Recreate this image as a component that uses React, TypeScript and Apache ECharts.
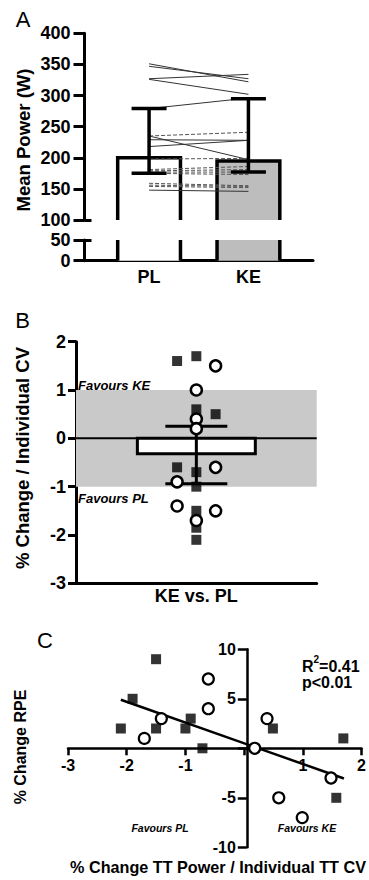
import React, { useEffect, useRef } from 'react';
import * as echarts from 'echarts';

const FONT = '"Liberation Sans", Arial, Helvetica, sans-serif';

// ---------- Panel A data ----------
const groupsA = ['PL', 'KE'];
const meanPowerA = [200, 195];
const sdLowA = [175, 177];
const sdHighA = [279, 295];
const barFillsA = ['#ffffff', '#bdbdbd'];
// individual lines: [PL, KE]
const individualSolid: [number, number][] = [
  [351, 322], [347, 327], [327, 334], [326, 302], [279, 296],
  [235, 197], [229, 228], [218, 228], [148, 146],
];
const individualDashed: [number, number][] = [
  [235, 241], [198, 199], [181, 186], [179, 181], [177, 177], [175, 173],
  [159, 155], [156, 154], [154, 152],
];

// ---------- Panel B data ----------
const meanB = -0.32;
const errLowB = -0.94;
const errHighB = 0.25;
const squaresB: [number, number][] = [
  [-0.16, 1.6], [0, 1.7], [0, 0.6], [0.16, 0.5], [-0.16, -0.6], [0, -0.7],
  [0, -1.0], [0, -1.5], [0, -1.85], [0, -2.1],
];
const circlesB: [number, number][] = [
  [0.16, 1.5], [0, 1.0], [0, 0.4], [0, 0.2], [0.16, -0.6], [-0.16, -0.9],
  [-0.16, -1.4], [0.16, -1.5], [0, -1.7],
];

// ---------- Panel C data ----------
const squaresC: [number, number][] = [
  [-2.1, 2], [-1.9, 5], [-1.5, 9], [-1.5, 2], [-1.0, 2], [-0.91, 3],
  [-0.71, 0], [0.49, 2], [1.69, 1], [1.57, -5],
];
const circlesC: [number, number][] = [
  [-1.7, 1], [-1.41, 3], [-0.61, 7], [-0.61, 4], [0.18, 0], [0.39, 3],
  [0.59, -5], [0.99, -7], [1.48, -3],
];
const fitC: [number, number][] = [[-2.1, 4.9], [1.7, -3.05]];
const xRangeC = [-3, 2];
const yRangeC = [-10, 10];

function barRenderer(floor: number, ceil: number, halfW: number, fills: string[], lw: number) {
  return (params: any, api: any) => {
    const x = api.value(0);
    const v = api.value(1);
    const top = Math.min(v, ceil);
    const bl = api.coord([x - halfW, floor]);
    const tr = api.coord([x + halfW, top]);
    const stroke = { stroke: '#000', lineWidth: lw, fill: null };
    const y0 = Math.min(bl[1], tr[1]);
    const h = Math.abs(bl[1] - tr[1]);
    const children: any[] = [
      { type: 'rect', shape: { x: bl[0], y: y0, width: tr[0] - bl[0], height: h }, style: { fill: fills[params.dataIndex % fills.length] } },
    ];
    if (v <= ceil) {
      children.push({
        type: 'polyline',
        shape: { points: [[bl[0], bl[1]], [bl[0], tr[1]], [tr[0], tr[1]], [tr[0], bl[1]]] },
        style: stroke,
      });
    } else {
      children.push({ type: 'line', shape: { x1: bl[0], y1: bl[1], x2: bl[0], y2: tr[1] }, style: stroke });
      children.push({ type: 'line', shape: { x1: tr[0], y1: bl[1], x2: tr[0], y2: tr[1] }, style: stroke });
    }
    return { type: 'group', children };
  };
}

function boxRenderer(halfW: number, lw: number) {
  return (params: any, api: any) => {
    const x = api.value(0);
    const v = api.value(1);
    const a = api.coord([x - halfW, 0]);
    const b = api.coord([x + halfW, v]);
    return {
      type: 'rect',
      shape: { x: a[0], y: Math.min(a[1], b[1]), width: b[0] - a[0], height: Math.abs(b[1] - a[1]) },
      style: { fill: '#fff', stroke: '#000', lineWidth: lw },
    };
  };
}

function errRenderer(capPx: number, lw: number) {
  return (params: any, api: any) => {
    const x = api.value(0);
    const a = api.coord([x, api.value(1)]);
    const b = api.coord([x, api.value(2)]);
    const s = { stroke: '#000', lineWidth: lw };
    return {
      type: 'group',
      children: [
        { type: 'line', shape: { x1: a[0], y1: a[1], x2: b[0], y2: b[1] }, style: s },
        { type: 'line', shape: { x1: a[0] - capPx, y1: a[1], x2: a[0] + capPx, y2: a[1] }, style: s },
        { type: 'line', shape: { x1: b[0] - capPx, y1: b[1], x2: b[0] + capPx, y2: b[1] }, style: s },
      ],
    };
  };
}

const boldLabel = (size: number) => ({ color: '#000', fontFamily: FONT, fontWeight: 'bold' as const, fontSize: size });

export default function App() {
  const ref = useRef<HTMLDivElement>(null);
  useEffect(() => {
    document.body.style.margin = '0';
    if (!ref.current) return;
    const chart = echarts.init(ref.current, null, { renderer: 'svg' });
    const axisLineA = { show: true, onZero: false, lineStyle: { color: '#000', width: 3 } };
    const barDataA = groupsA.map((_, i) => [i, meanPowerA[i]]);
    const errDataA = groupsA.map((_, i) => [i, sdLowA[i], sdHighA[i]]);

    // Panel C grid geometry; axes are shifted to the zero crossings
    const gC = { left: 68, right: 3, top: 649.3, height: 198 };
    const wC = 369 - gC.left - gC.right;
    const xZeroOffset = ((0 - xRangeC[0]) / (xRangeC[1] - xRangeC[0])) * wC;
    const yZeroOffset = ((0 - yRangeC[0]) / (yRangeC[1] - yRangeC[0])) * gC.height;

    const lineSeries = [
      ...individualSolid.map((d) => ({ d, dashed: false })),
      ...individualDashed.map((d) => ({ d, dashed: true })),
    ].map(({ d, dashed }) => ({
      type: 'line',
      xAxisIndex: 0,
      yAxisIndex: 0,
      data: [[0, d[0]], [1, d[1]]],
      symbol: 'none',
      z: 3,
      silent: true,
      lineStyle: { color: dashed ? '#555' : '#333', width: 1, type: dashed ? [4, 2] : 'solid' },
    }));

    const option: any = {
      animation: false,
      textStyle: { fontFamily: FONT },
      grid: [
        { left: 84.5, right: 56, top: 33.3, height: 186.7 },
        { left: 84.5, right: 56, top: 240, height: 20.7 },
        { left: 76, right: 52.3, top: 341.7, height: 241.6 },
        gC,
      ],
      xAxis: [
        { type: 'value', gridIndex: 0, min: -0.65, max: 1.65, show: false },
        {
          type: 'value', gridIndex: 1, min: -0.65, max: 1.65,
          axisLine: { show: true, onZero: false, lineStyle: { color: '#000', width: 3 } },
          axisTick: { show: false },
          splitLine: { show: false },
          axisLabel: {
            ...boldLabel(18), margin: 7, customValues: [0, 1],
            formatter: (v: number) => groupsA[Math.round(v)] ?? '',
          },
        },
        {
          type: 'value', gridIndex: 2, min: -1, max: 1,
          axisLine: { show: true, onZero: false, lineStyle: { color: '#000', width: 3 } },
          axisTick: { show: false }, axisLabel: { show: false }, splitLine: { show: false },
        },
        {
          type: 'value', gridIndex: 3, min: xRangeC[0], max: xRangeC[1], interval: 1,
          position: 'bottom', offset: -yZeroOffset,
          axisLine: { show: true, onZero: false, lineStyle: { color: '#000', width: 2.5 } },
          axisTick: { show: true, inside: false, length: 7, lineStyle: { color: '#000', width: 2.5 } },
          splitLine: { show: false },
          axisLabel: { ...boldLabel(16), margin: 9, formatter: (v: number) => (v === 0 ? '' : String(v)) },
        },
      ],
      yAxis: [
        {
          type: 'value', gridIndex: 0, position: 'left', min: 100, max: 400, interval: 50,
          axisLine: axisLineA,
          axisTick: { show: true, length: 11, lineStyle: { color: '#000', width: 3 } },
          splitLine: { show: false },
          axisLabel: { ...boldLabel(18), margin: 14 },
        },
        {
          type: 'value', gridIndex: 0, position: 'left', min: 100, max: 400,
          axisLine: { show: false, onZero: false },
          axisTick: { show: true, inside: true, length: 7, customValues: [100], lineStyle: { color: '#000', width: 3 } },
          axisLabel: { show: false }, splitLine: { show: false },
        },
        {
          type: 'value', gridIndex: 1, position: 'left', min: 0, max: 50, interval: 50,
          axisLine: axisLineA,
          axisTick: { show: true, length: 11, lineStyle: { color: '#000', width: 3 } },
          splitLine: { show: false },
          axisLabel: { ...boldLabel(18), margin: 14 },
        },
        {
          type: 'value', gridIndex: 1, position: 'left', min: 0, max: 50,
          axisLine: { show: false, onZero: false },
          axisTick: { show: true, inside: true, length: 7, customValues: [50], lineStyle: { color: '#000', width: 3 } },
          axisLabel: { show: false }, splitLine: { show: false },
        },
        {
          type: 'value', gridIndex: 2, position: 'left', min: -3, max: 2, interval: 1,
          axisLine: { show: true, onZero: false, lineStyle: { color: '#000', width: 3 } },
          axisTick: { show: true, length: 8, lineStyle: { color: '#000', width: 3 } },
          splitLine: { show: false },
          axisLabel: { ...boldLabel(18), margin: 10 },
        },
        {
          type: 'value', gridIndex: 3, position: 'left', min: yRangeC[0], max: yRangeC[1], interval: 5,
          offset: -xZeroOffset,
          axisLine: { show: true, onZero: false, lineStyle: { color: '#000', width: 2.5 } },
          axisTick: { show: true, length: 9, lineStyle: { color: '#000', width: 2.5 } },
          splitLine: { show: false },
          axisLabel: { ...boldLabel(16), margin: 11, formatter: (v: number) => (v === 0 ? '' : String(v)) },
        },
      ],
      series: [
        // Panel A bars (upper and lower segments)
        {
          type: 'custom', xAxisIndex: 0, yAxisIndex: 0, z: 2, silent: true,
          data: barDataA, encode: { x: 0, y: 1 },
          renderItem: barRenderer(100, 400, 0.316, barFillsA, 3.5),
        },
        {
          type: 'custom', xAxisIndex: 1, yAxisIndex: 2, z: 2, silent: true,
          data: barDataA, encode: { x: 0, y: 1 },
          renderItem: barRenderer(0, 50, 0.316, barFillsA, 3.5),
        },
        ...lineSeries,
        {
          type: 'custom', xAxisIndex: 0, yAxisIndex: 0, z: 4, silent: true,
          data: errDataA, encode: { x: 0, y: [1, 2] },
          renderItem: errRenderer(17.5, 3.5),
        },
        // Panel B
        {
          type: 'line', xAxisIndex: 2, yAxisIndex: 4, z: 2, silent: true,
          data: [[-1, 0], [1, 0]], symbol: 'none',
          lineStyle: { color: '#000', width: 2 },
          markArea: {
            silent: true, itemStyle: { color: '#c9c9c9' },
            data: [[{ yAxis: -1 }, { yAxis: 1 }]],
          },
        },
        {
          type: 'custom', xAxisIndex: 2, yAxisIndex: 4, z: 3, silent: true,
          data: [[0, meanB]], encode: { x: 0, y: 1 },
          renderItem: boxRenderer(0.49, 3),
        },
        {
          type: 'custom', xAxisIndex: 2, yAxisIndex: 4, z: 4, silent: true,
          data: [[0, errLowB, errHighB]], encode: { x: 0, y: [1, 2] },
          renderItem: errRenderer(31, 3),
        },
        {
          type: 'scatter', xAxisIndex: 2, yAxisIndex: 4, z: 5, silent: true,
          data: squaresB, symbol: 'rect', symbolSize: 10, itemStyle: { color: '#000' },
        },
        {
          type: 'scatter', xAxisIndex: 2, yAxisIndex: 4, z: 6, silent: true,
          data: circlesB, symbol: 'circle', symbolSize: 11,
          itemStyle: { color: '#fff', borderColor: '#000', borderWidth: 2.5, opacity: 1 },
        },
        // Panel C
        {
          type: 'line', xAxisIndex: 3, yAxisIndex: 5, z: 3, silent: true,
          data: fitC, symbol: 'none', lineStyle: { color: '#000', width: 2.5 },
        },
        {
          type: 'scatter', xAxisIndex: 3, yAxisIndex: 5, z: 4, silent: true,
          data: squaresC, symbol: 'rect', symbolSize: 10, itemStyle: { color: '#000' },
        },
        {
          type: 'scatter', xAxisIndex: 3, yAxisIndex: 5, z: 5, silent: true,
          data: circlesC, symbol: 'circle', symbolSize: 11,
          itemStyle: { color: '#fff', borderColor: '#000', borderWidth: 2.2, opacity: 1 },
        },
      ],
      graphic: [
        { type: 'text', x: 23, y: 19, style: { text: 'A', fontSize: 22, fontFamily: FONT, fill: '#000', align: 'center', verticalAlign: 'middle' } },
        { type: 'text', x: 22.5, y: 320, style: { text: 'B', fontSize: 22, fontFamily: FONT, fill: '#000', align: 'center', verticalAlign: 'middle' } },
        { type: 'text', x: 45, y: 640, style: { text: 'C', fontSize: 22, fontFamily: FONT, fill: '#000', align: 'center', verticalAlign: 'middle' } },
        { type: 'text', x: 23, y: 140, rotation: Math.PI / 2, style: { text: 'Mean Power (W)', ...boldLabel(18.5), fill: '#000', align: 'center', verticalAlign: 'middle' } },
        { type: 'text', x: 22, y: 458, rotation: Math.PI / 2, style: { text: '% Change / Individual CV', ...boldLabel(18.5), fill: '#000', align: 'center', verticalAlign: 'middle' } },
        { type: 'text', x: 196.3, y: 596, style: { text: 'KE vs. PL', ...boldLabel(18), fill: '#000', align: 'center', verticalAlign: 'middle' } },
        { type: 'text', x: 78, y: 385, style: { text: 'Favours KE', ...boldLabel(13), fontStyle: 'italic', fill: '#000', align: 'left', verticalAlign: 'middle' } },
        { type: 'text', x: 78, y: 498, style: { text: 'Favours PL', ...boldLabel(13), fontStyle: 'italic', fill: '#000', align: 'left', verticalAlign: 'middle' } },
        { type: 'text', x: 20, y: 747, rotation: Math.PI / 2, style: { text: '% Change RPE', ...boldLabel(16), fill: '#000', align: 'center', verticalAlign: 'middle' } },
        { type: 'text', x: 218, y: 867, style: { text: '% Change TT Power / Individual TT CV', ...boldLabel(16.2), fill: '#000', align: 'center', verticalAlign: 'middle' } },
        { type: 'text', x: 160, y: 828, style: { text: 'Favours PL', ...boldLabel(10.5), fontStyle: 'italic', fill: '#000', align: 'center', verticalAlign: 'middle' } },
        { type: 'text', x: 307, y: 828, style: { text: 'Favours KE', ...boldLabel(10.5), fontStyle: 'italic', fill: '#000', align: 'center', verticalAlign: 'middle' } },
        {
          type: 'text', x: 302, y: 664,
          style: {
            text: '{b|R}{s|2}{b|=0.41}', align: 'left', verticalAlign: 'middle',
            rich: {
              b: { ...boldLabel(16), fill: '#000', color: '#000', lineHeight: 20, verticalAlign: 'bottom' },
              s: { ...boldLabel(10), fill: '#000', color: '#000', lineHeight: 20, verticalAlign: 'top' },
            },
          },
        },
        { type: 'text', x: 302, y: 682, style: { text: 'p<0.01', ...boldLabel(16), fill: '#000', align: 'left', verticalAlign: 'middle' } },
      ],
    };
    chart.setOption(option);
    return () => chart.dispose();
  }, []);
  return <div ref={ref} style={{ width: 369, height: 880 }} />;
}
